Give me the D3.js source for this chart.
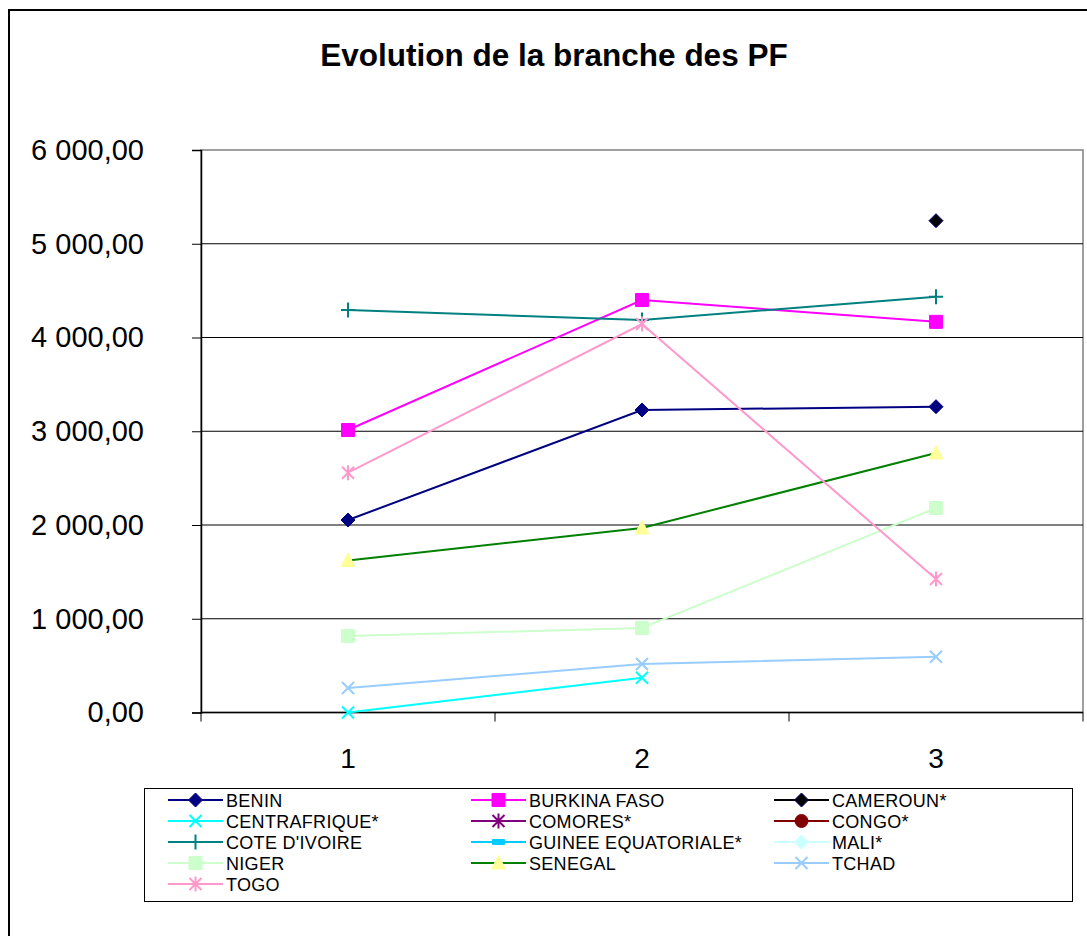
<!DOCTYPE html>
<meta charset="utf-8">
<style>
body { margin: 0; background: #fff; }
svg { font-family: "Liberation Sans", Arial, sans-serif; }
.grid line { stroke: #000; stroke-width: 1px; }
.serie { fill: none; stroke-width: 2px; }
.legend text { font-size: 18px; letter-spacing: 0.3px; }
</style>
<svg width="1087" height="936"></svg>
<script src="https://cdnjs.cloudflare.com/ajax/libs/d3/7.8.5/d3.min.js"></script>
<script>

// data
var categories = ["1", "2", "3"];
var yTicks = [0, 1000, 2000, 3000, 4000, 5000, 6000];

var benin = [2053, 3227, 3262];
var burkina = [3013, 4400, 4167];
var cameroun = [null, null, 5246];
var centrafrique = [0, 371, null];
var comores = [null, null, null];
var congo = [null, null, null];
var coteIvoire = [4293, 4187, 4435];
var guinee = [null, null, null];
var mali = [null, null, null];
var niger = [816, 901, 2181];
var senegal = [1621, 1968, 2768];
var tchad = [261, 517, 595];
var togo = [2558, 4144, 1424];

var names = ["BENIN", "BURKINA FASO", "CAMEROUN*", "CENTRAFRIQUE*", "COMORES*", "CONGO*",
  "COTE D'IVOIRE", "GUINEE EQUATORIALE*", "MALI*", "NIGER", "SENEGAL", "TCHAD", "TOGO"];
var values = [benin, burkina, cameroun, centrafrique, comores, congo,
  coteIvoire, guinee, mali, niger, senegal, tchad, togo];
var lineColors = ["#000080", "#ff00ff", "#000000", "#00ffff", "#800080", "#800000",
  "#008080", "#00ccff", "#ccffff", "#ccffcc", "#008000", "#99ccff", "#ff99cc"];
var markerFill = ["#000080", "#ff00ff", "#000000", "none", "none", "#800000",
  "none", "#00ccff", "#ccffff", "#ccffcc", "#ffff99", "none", "none"];
var markerStroke = ["#000080", "#ff00ff", "#000080", "#00ffff", "#800080", "#800000",
  "#008080", "#00ccff", "#ccffff", "#ccffcc", "#ffff99", "#99ccff", "#ff99cc"];
var markers = ["diamond", "square", "diamond", "x", "star", "circle",
  "plus", "dash", "diamond", "square", "triangle", "x", "star"];

var series = names.map(function(n, i) {
  return {name: n, values: values[i], color: lineColors[i], fill: markerFill[i],
    mstroke: markerStroke[i], marker: markers[i]};
});

function markerPath(type) {
  switch (type) {
    case "diamond": return "M0,-7L7,0L0,7L-7,0Z";
    case "square": return "M-6.5,-6.5H6.5V6.5H-6.5Z";
    case "x": return "M-6,-6L6,6M-6,6L6,-6";
    case "star": return "M-6,-6L6,6M-6,6L6,-6M0,-7.5V7.5";
    case "plus": return "M-7,0H7M0,-7.5V7.5";
    case "dash": return "M-6,-2.5H6V2.5H-6Z";
    case "triangle": return "M0,-7.5L7,6L-7,6Z";
    case "circle": return "M-6.5,0A6.5,6.5 0 1,0 6.5,0A6.5,6.5 0 1,0 -6.5,0Z";
  }
}
function isStroked(type) { return type == "x" || type == "star" || type == "plus"; }

var svg = d3.select("svg");
var plot = {left: 201, top: 150, right: 1083, bottom: 712.5};

// outer chart frame (runs past the window)
svg.append("rect")
    .attr("x", 9).attr("y", 10)
    .attr("width", 1200).attr("height", 1000)
    .attr("fill", "#fff")
    .attr("stroke", "#000")
    .attr("stroke-width", 2);

svg.append("text")
    .attr("x", 554)
    .attr("y", 66)
    .attr("text-anchor", "middle")
    .style("font-weight", "bold")
    .style("font-size", "31.5px")
    .text("Evolution de la branche des PF");

var x = d3.scaleBand().domain(categories).range([plot.left, plot.right]);
var y = d3.scaleLinear().domain([0, 6000]).range([plot.bottom, plot.top]);

var fr = d3.formatLocale({decimal: ",", thousands: " ", grouping: [3], currency: ["", " €"]});
var fmt = fr.format(",.2f");

// plot area frame
svg.append("rect")
    .attr("x", plot.left).attr("y", plot.top)
    .attr("width", plot.right - plot.left)
    .attr("height", plot.bottom - plot.top)
    .attr("fill", "none")
    .attr("stroke", "#808080")
    .attr("stroke-width", 1.5);

svg.append("g")
    .attr("class", "grid")
  .selectAll("line")
  .data(yTicks.slice(1, -1))
  .enter().append("line")
    .attr("x1", plot.left).attr("x2", plot.right)
    .attr("y1", function(d) { return y(d); })
    .attr("y2", function(d) { return y(d); });

var yAxis = svg.append("g")
    .attr("transform", "translate(" + plot.left + ",0)")
    .call(d3.axisLeft(y).tickValues(yTicks).tickFormat(fmt).tickSize(9).tickPadding(48));
yAxis.select(".domain").attr("stroke", "#000").attr("stroke-width", 1.5);
yAxis.selectAll("text").style("font-size", "29px").attr("fill", "#000")
    .style("font-family", "'Liberation Sans', Arial, sans-serif");

var xAxis = svg.append("g")
    .attr("transform", "translate(0," + plot.bottom + ")");
xAxis.append("line")
    .attr("x1", plot.left).attr("x2", plot.right)
    .attr("stroke", "#000").attr("stroke-width", 1.5);
xAxis.selectAll(".tk")
  .data(categories.concat(["end"]))
  .enter().append("line")
    .attr("x1", function(d, i) { return i < categories.length ? x(d) : plot.right; })
    .attr("x2", function(d, i) { return i < categories.length ? x(d) : plot.right; })
    .attr("y1", 0).attr("y2", 9)
    .attr("stroke", "#000");
xAxis.selectAll(".lab")
  .data(categories)
  .enter().append("text")
    .attr("x", function(d) { return x(d) + x.bandwidth() / 2; })
    .attr("y", 55)
    .attr("text-anchor", "middle")
    .style("font-size", "28px")
    .text(function(d) { return d; });

var cx = function(i) { return x(categories[i]) + x.bandwidth() / 2; };
var line = d3.line()
    .defined(function(d) { return d != null; })
    .x(function(d, i) { return cx(i); })
    .y(function(d) { return y(d); });

var s = svg.selectAll(".s")
  .data(series)
  .enter().append("g");
s.append("path")
    .attr("class", "serie")
    .attr("stroke", function(d) { return d.color; })
    .attr("d", function(d) { return line(d.values); });
s.each(function(d) {
  var pts = d.values.map(function(v, i) { return {v: v, i: i}; })
      .filter(function(p) { return p.v != null; });
  d3.select(this).selectAll(".m")
    .data(pts)
    .enter().append("path")
      .attr("transform", function(p) { return "translate(" + cx(p.i) + "," + y(p.v) + ")"; })
      .attr("d", markerPath(d.marker))
      .attr("fill", isStroked(d.marker) ? "none" : d.fill)
      .attr("stroke", d.mstroke)
      .attr("stroke-width", isStroked(d.marker) ? 2 : 1);
});

// legend
var leg = svg.append("g").attr("class", "legend");
leg.append("rect")
    .attr("x", 144.5).attr("y", 788.5)
    .attr("width", 928).attr("height", 113)
    .attr("fill", "#fff")
    .attr("stroke", "#000");
var colX = [168, 471, 774];
var item = leg.selectAll(".item")
  .data(series)
  .enter().append("g")
    .attr("transform", function(d, i) {
      return "translate(" + colX[i % 3] + "," + (800 + Math.floor(i / 3) * 21) + ")";
    });
item.append("line")
    .attr("x1", 0).attr("x2", 55)
    .attr("stroke", function(d) { return d.color; })
    .attr("stroke-width", 2);
item.append("path")
    .attr("transform", "translate(27.5,0)")
    .attr("d", function(d) { return markerPath(d.marker); })
    .attr("fill", function(d) { return isStroked(d.marker) ? "none" : d.fill; })
    .attr("stroke", function(d) { return d.mstroke; })
    .attr("stroke-width", function(d) { return isStroked(d.marker) ? 2 : 1; });
item.append("text")
    .attr("x", 58)
    .attr("y", 6.5)
    .text(function(d) { return d.name; });

</script>
